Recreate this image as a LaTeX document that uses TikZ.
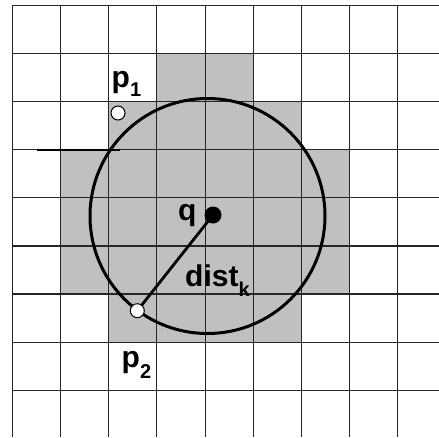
\documentclass[tikz,border=0pt]{standalone}
\usepackage{fontspec}
\setmainfont{Liberation Sans}
\newcommand\lblsub[2][10pt]{\raisebox{-#1}{\fontsize{20}{20}\selectfont #2}}
\begin{document}
\begin{tikzpicture}[x=1pt,y=-1pt,
  cellgray/.style={fill={rgb,255:red,192;green,192;blue,192}},
  gridline/.style={draw=black!85,line width=1.1pt},
  rangecircle/.style={circle,draw=black,line width=3pt,minimum size=235pt,inner sep=0pt},
  opendot/.style={circle,draw=black,fill=white,line width=1pt,minimum size=14pt,inner sep=0pt},
  fulldot/.style={circle,fill=black,minimum size=17pt,inner sep=0pt},
  lbl/.style={anchor=base west,inner sep=0pt,font=\bfseries\fontsize{30}{30}\selectfont}]
\fill[white] (0,0) rectangle (439,437);
\useasboundingbox (0,0) rectangle (439,437);
% grey cells
\foreach \r/\a/\b in {1/3/4, 2/2/5, 3/1/6, 4/1/6, 5/1/6, 6/2/5}
  \fill[cellgray] ({12.3+48.2*\a},{5.7+48.05*\r}) rectangle ({12.3+48.2*(\b+1)},{5.7+48.05*(\r+1)});
% grid
\foreach \i in {0,...,8}
  \draw[gridline] ({12.3+48.2*\i},5.7) -- ({12.3+48.2*\i},437);
\foreach \j in {0,...,8}
  \draw[gridline] (12.3,{5.7+48.05*\j}) -- (439,{5.7+48.05*\j});
% extra segment
\draw[line width=2pt] (37,149.85) -- (120,149.85);
% range circle
\node[rangecircle] (range) at (207.5,216) {};
% points
\coordinate (qc) at (213,215);
\coordinate (p2c) at (137.3,310.7);
\draw[line width=2.8pt] (qc) -- (p2c);
\node[fulldot] (q) at (qc) {};
\node[opendot] (p1) at (118,113) {};
\node[opendot] (p2) at (p2c) {};
% labels
\node[lbl] (p1lbl) at (111.5,87.3) {p\lblsub[9.5pt]{1}};
\node[lbl] (p2lbl) at (121.5,367.3) {p\lblsub[11pt]{2}};
\node[lbl] (qlbl) at (178,220) {q};
\node[lbl] (distlbl) at (185,286.7) {dist\lblsub[10pt]{k}};
\end{tikzpicture}
\end{document}
